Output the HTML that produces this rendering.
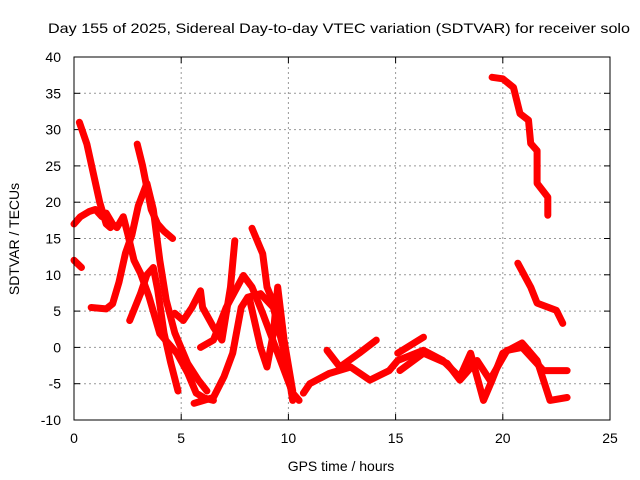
<!DOCTYPE html>
<html><head><meta charset="utf-8"><style>
body{margin:0;background:#fff;}
svg{display:block;font-family:"Liberation Sans",sans-serif;}
</style></head><body>
<svg id="chart" width="640" height="480">
<rect width="640" height="480" fill="#fff"/>
<text x="339" y="33" text-anchor="middle" font-size="14" textLength="582" lengthAdjust="spacingAndGlyphs">Day 155 of 2025, Sidereal Day-to-day VTEC variation (SDTVAR) for receiver solo</text>
<text x="341" y="471" text-anchor="middle" font-size="14">GPS time / hours</text>
<text transform="translate(19,239) rotate(-90)" text-anchor="middle" font-size="14">SDTVAR / TECUs</text>
<g id="grid"></g>
<g id="series"></g>
<rect x="74" y="57" width="536" height="363" fill="none" stroke="#000" stroke-width="1"/>
</svg>
<script>
const xTicks=[0,5,10,15,20,25];
const yTicks=[-10,-5,0,5,10,15,20,25,30,35,40];
const s1x=[0.25,0.6,0.9,1.2,1.5,1.7];
const s1y=[31,28,24,20,17,16.5];
const s2x=[0,0.3,0.7,1.0,1.3,1.5,1.8,2.0,2.3,2.5,2.8,3.1,3.5,4.0,4.8,5.3,5.7,6.1,6.5];
const s2y=[17,18,18.7,19,18,18.5,17,16.5,18,15.7,12,10.2,7,1.9,-0.8,-3.5,-6.3,-7,-7.3];
const s3x=[2.95,3.2,3.4,3.6,3.9,4.2,4.6];
const s3y=[28,25,22,19,17,16,15];
const s4x=[0.8,1.5,1.8,2.1,2.4,2.7,3.0,3.4,3.7,4.0,4.3,4.7,5.3,5.8,6.2];
const s4y=[5.5,5.3,6,9,13,15.5,19.5,22.6,19,12,6.5,2,-2.2,-4.5,-6];
const s5x=[2.6,3.1,3.4,3.7,3.9,4.2,4.5,4.85];
const s5y=[3.7,7.4,10,11,8,2,-2,-6];
const s6x=[4.7,5.1,5.5,5.9,6.0,6.5,6.9,7.3,7.5];
const s6y=[4.7,3.7,5.5,7.8,5.5,2.8,1,8.3,14.7];
const s7x=[5.6,6.5,7.0,7.4,7.8,8.1,8.7,9.3,9.9,10.2];
const s7y=[-7.7,-6.9,-4,-0.8,5.5,6.9,7.4,5.5,-1.8,-7.3];
const s8x=[5.9,6.5,7.1,7.9,8.3,8.8,9.5,10.2];
const s8y=[0,1,5.5,9.9,8.3,4.7,-0.8,-6.3];
const s9x=[8.3,8.8,9.0,9.5,9.9,10.2,10.5];
const s9y=[16.4,12.9,8.3,4.7,-2.7,-6.3,-7.3];
const s10x=[8.2,8.7,9.0,9.3,9.5,9.8,10.2];
const s10y=[6.5,0,-2.7,2,8.3,1,-6];
const s11x=[0,0.35];
const s11y=[12,11];
const s12x=[10.7,11,11.9,12.9,13.8,14.7,15.1,16.3,17.2,18,18.5,19.1,19.5,20,20.9,21.6,22.2,23];
const s12y=[-6.3,-5,-3.6,-2.7,-4.5,-3.2,-1.8,-0.4,-1.8,-4.1,-0.8,-7.3,-4.5,-0.8,0.6,-1.8,-7.3,-6.9];
const s13x=[11.8,12.4,13.3,14.1];
const s13y=[-0.4,-2.7,-0.8,1];
const s14x=[15.1,16.3];
const s14y=[-0.8,1.4];
const s15x=[15.2,16.3,17.4,18,18.8,19.4,20.2,20.9,21.9,23];
const s15y=[-3.2,-0.8,-2.2,-4.5,-1.8,-4.5,-0.4,0,-3.2,-3.2];
const s16x=[19.5,20,20.5,20.8,21.2,21.3,21.6,21.6,22.1,22.1];
const s16y=[37.2,37,35.8,32.2,31.3,28.1,27.1,22.6,20.7,18.2];
const s17x=[20.7,21.3,21.6,22.5,22.8];
const s17y=[11.6,8.3,6.1,5.1,3.3];
const seriesX=[s1x,s2x,s3x,s4x,s5x,s6x,s7x,s8x,s9x,s10x,s11x,s12x,s13x,s14x,s15x,s16x,s17x];
const seriesY=[s1y,s2y,s3y,s4y,s5y,s6y,s7y,s8y,s9y,s10y,s11y,s12y,s13y,s14y,s15y,s16y,s17y];

const NS="http://www.w3.org/2000/svg";
const L=74,R=610,T=57,B=420;
function xs(v){return L+(v-0)/(25-0)*(R-L);}
function ys(v){return B-(v+10)/(50)*(B-T);}
const grid=document.getElementById('grid');
xTicks.forEach(t=>{
  const x=xs(t);
  if(t>0&&t<25){const g=document.createElementNS(NS,'line');
  g.setAttribute('x1',x);g.setAttribute('x2',x);g.setAttribute('y1',T);g.setAttribute('y2',B);
  g.setAttribute('stroke','#999');g.setAttribute('stroke-dasharray','2,3');
  
  
  grid.appendChild(g);}
  [[B,B-6],[T,T+6]].forEach(p=>{const k=document.createElementNS(NS,'line');
  k.setAttribute('x1',x);k.setAttribute('x2',x);k.setAttribute('y1',p[0]);k.setAttribute('y2',p[1]);k.setAttribute('stroke','#000');
  
  
  grid.appendChild(k);});
  const tx=document.createElementNS(NS,'text');
  tx.setAttribute('x',x);tx.setAttribute('y',443);tx.setAttribute('text-anchor','middle');tx.setAttribute('font-size','14');
  tx.textContent=t;
  
  
  grid.appendChild(tx);
});
yTicks.forEach(t=>{
  const y=ys(t);
  if(t>-10&&t<40){const g=document.createElementNS(NS,'line');
  g.setAttribute('x1',L);g.setAttribute('x2',R);g.setAttribute('y1',y);g.setAttribute('y2',y);
  g.setAttribute('stroke','#999');g.setAttribute('stroke-dasharray','2,3');
  
  
  grid.appendChild(g);}
  [[L,L+6],[R,R-6]].forEach(p=>{const k=document.createElementNS(NS,'line');
  k.setAttribute('x1',p[0]);k.setAttribute('x2',p[1]);k.setAttribute('y1',y);k.setAttribute('y2',y);k.setAttribute('stroke','#000');
  
  
  grid.appendChild(k);});
  const tx=document.createElementNS(NS,'text');
  tx.setAttribute('x',61);tx.setAttribute('y',y+5);tx.setAttribute('text-anchor','end');tx.setAttribute('font-size','14');
  tx.textContent=t;
  
  
  grid.appendChild(tx);
});
const sg=document.getElementById('series');
seriesX.forEach((xa,i)=>{
  const ya=seriesY[i];
  const pts=xa.map((v,j)=>xs(v).toFixed(1)+','+ys(ya[j]).toFixed(1)).join(' ');
  const pl=document.createElementNS(NS,'polyline');
  pl.setAttribute('points',pts);pl.setAttribute('fill','none');pl.setAttribute('stroke','#ff0000');
  pl.setAttribute('stroke-width','7');pl.setAttribute('stroke-linejoin','round');pl.setAttribute('stroke-linecap','round');
  
  
  sg.appendChild(pl);
});
</script>
</body></html>
